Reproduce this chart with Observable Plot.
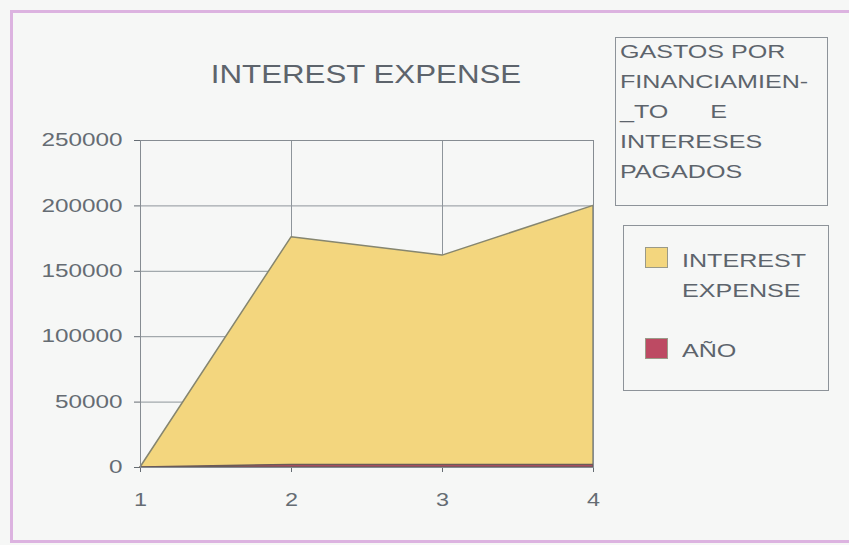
<!DOCTYPE html>
<html><head><meta charset="utf-8">
<script src="https://cdn.jsdelivr.net/npm/d3@7"></script>
<script src="https://cdn.jsdelivr.net/npm/@observablehq/plot@0.6"></script>
<style>
body{margin:0;background:#f6f7f6;}
#wrap{position:relative;width:849px;height:545px;overflow:hidden;font-family:"Liberation Sans",Arial,sans-serif;color:#5d646c;background:#f6f7f6;}
.frame{position:absolute;left:10px;top:10px;width:880px;height:533px;border:3px solid #dcb3e0;box-sizing:border-box;}
#chart{position:absolute;left:0;top:0;}
.t{position:absolute;white-space:pre;transform-origin:0 0;}
#title{left:366px;top:60px;font-size:25px;transform:translateX(-50%) scaleX(1.25);transform-origin:50% 0;}
.box{position:absolute;border:1.5px solid #8d9399;box-sizing:border-box;}
.sw{position:absolute;width:23px;height:21px;box-sizing:border-box;border:1.5px solid #9a9a88;}
.lt{position:absolute;font-size:19px;line-height:30px;white-space:pre;transform:scaleX(1.32);transform-origin:0 0;}
</style></head>
<body>
<div id="wrap">
  <div class="frame"></div>
  <div id="chart"></div>
  <div class="t" id="title">INTEREST EXPENSE</div>
  <div class="box" style="left:615px;top:37px;width:213px;height:169px;"></div>
  <div class="lt" id="boxtitle" style="left:620px;top:37px;"></div>
  <div class="box" style="left:623px;top:225px;width:206px;height:166px;"></div>
  <div class="sw" id="sw0" style="left:645px;top:247px;"></div>
  <div class="lt" id="lg0" style="left:682px;top:246px;"></div>
  <div class="sw" id="sw1" style="left:645px;top:338px;"></div>
  <div class="lt" id="lg1" style="left:682px;top:336px;"></div>
</div>
<script>
const xValues = [1, 2, 3, 4];
const interestExpense = [0, 176000, 162000, 200000];
const anio = [0, 2002, 2003, 2004];
const yTicks = [0, 50000, 100000, 150000, 200000, 250000];
const seriesNames = ["INTEREST EXPENSE", "AÑO"];
const seriesColors = ["#f3d67e", "#bd4a63"];
const legendTitleLines = ["GASTOS POR", "FINANCIAMIEN-", "_TO      E", "INTERESES", "PAGADOS"];
const chartTitle = "INTEREST EXPENSE";

document.getElementById("title").textContent = chartTitle;
document.getElementById("boxtitle").textContent = legendTitleLines.join("\n");
document.getElementById("lg0").textContent = "INTEREST\nEXPENSE";
document.getElementById("lg1").textContent = seriesNames[1];
document.getElementById("sw0").style.background = seriesColors[0];
document.getElementById("sw1").style.background = seriesColors[1];

const rowsI = xValues.map((x, i) => ({x, v: interestExpense[i]}));
const rowsA = xValues.map((x, i) => ({x, v: anio[i]}));

const chart = Plot.plot({
  width: 849, height: 545,
  marginLeft: 140, marginRight: 256, marginTop: 140, marginBottom: 78,
  style: {background: "transparent", fontFamily: "'Liberation Sans', Arial, sans-serif", fontSize: "18px", color: "#656c73"},
  x: {domain: [1, 4], ticks: xValues, tickFormat: d => String(d), tickSize: 5, tickPadding: 21, label: null},
  y: {domain: [0, 250000], ticks: yTicks, tickFormat: d => String(d), tickSize: 6, tickPadding: 12, label: null},
  marks: [
    Plot.gridY(yTicks, {stroke: "#8e959b", strokeOpacity: 1}),
    Plot.gridX([2, 3], {stroke: "#8e959b", strokeOpacity: 1}),
    Plot.areaY(rowsI, {x: "x", y: "v", fill: seriesColors[0], stroke: "#86866f", strokeWidth: 1.5}),
    Plot.areaY(rowsA, {x: "x", y: "v", fill: seriesColors[1], stroke: "#6a5a58", strokeWidth: 1.5}),
    Plot.frame({stroke: "#868c92"})
  ]
});
// widen tick labels horizontally, like the scanned original
[["y-axis tick label", 1.35], ["x-axis tick label", 1.3]].forEach(([lab, s]) => {
  chart.querySelectorAll(`[aria-label="${lab}"] text`).forEach(t => {
    const tr = t.getAttribute("transform") || "";
    t.setAttribute("transform", `${tr} scale(${s},1)`);
  });
});
document.getElementById("chart").appendChild(chart);
</script>
</body></html>
